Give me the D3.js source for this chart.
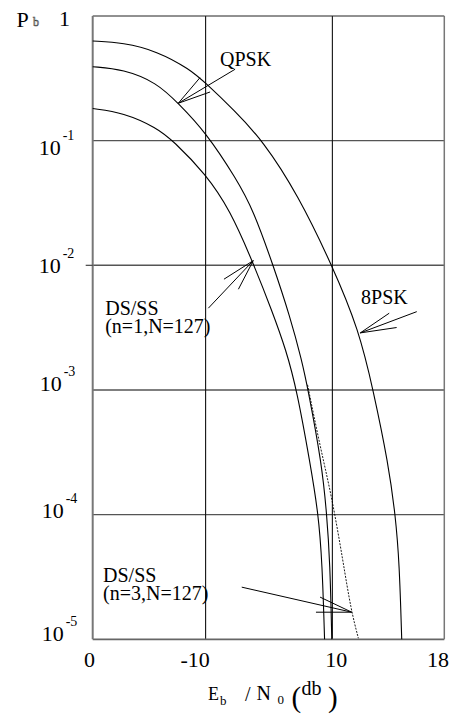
<!DOCTYPE html>
<html>
<head>
<meta charset="utf-8">
<script src="https://cdn.jsdelivr.net/npm/d3@7"></script>
<style>
  html, body { margin: 0; padding: 0; background: #fff; }
  svg { display: block; }
  svg text { font-family: "Liberation Serif", "DejaVu Serif", "Noto Serif", "Times New Roman", Times, serif; }
</style>
</head>
<body>
<svg id="chart" width="453" height="715"></svg>
<script>
// ---- axis data ----
const xTickValues = [0, 5.78, 12.27, 18];          // Eb/N0 (dB) positions of the grid columns
const xTickLabels = ["0", "-10", "10", "18"];
const yTickValues = [1e-1, 1e-2, 1e-3, 1e-4, 1e-5];
const yTickExponents = ["-1", "-2", "-3", "-4", "-5"];

// ---- series: bit error probability Pb vs Eb/N0 (dB) ----
const ebn0_8psk = [0, 1.57, 3.28, 4.98, 5.78, 7.23, 8.73, 10.51, 12.27, 13.63, 14.37, 15.13, 15.50, 15.70, 15.82];
const pb_8psk   = [0.630, 0.611, 0.524, 0.374, 0.290, 0.1762, 0.0994, 0.0367, 0.00989, 0.00303, 9.83e-4, 2.59e-4, 9.82e-5, 4.08e-5, 1e-5];

const ebn0_qpsk = [0, 1.57, 3.28, 4.38, 5.78, 7.37, 8.22, 9.25, 10.10, 10.70, 11.04, 11.72, 11.98, 12.15, 12.24];
const pb_qpsk   = [0.392, 0.374, 0.292, 0.1995, 0.1174, 0.0490, 0.0278, 0.00989, 0.00388, 0.00174, 9.83e-4, 2.59e-4, 1.028e-4, 4.08e-5, 1e-5];

const ebn0_ds1 = [0, 1.57, 3.28, 4.13, 5.78, 7.03, 8.22, 9.18, 9.90, 10.46, 11.13, 11.55, 11.75, 11.87];
const pb_ds1   = [0.181, 0.168, 0.127, 0.0994, 0.0541, 0.0278, 0.0104, 0.00431, 0.002097, 9.83e-4, 2.59e-4, 1.028e-4, 4.08e-5, 1e-5];

const ebn0_ds3 = [11.00, 11.64, 12.24, 12.83, 13.22, 13.60];
const pb_ds3   = [1.10e-3, 3.52e-4, 1.40e-4, 4.1e-5, 1.73e-5, 1.02e-5];

// ---- annotations (label + arrow, in data units) ----
const annLabels = [["QPSK"], ["8PSK"], ["DS/SS", "(n=1,N=127)"], ["DS/SS", "(n=3,N=127)"]];
const annLabelAt = [[6.52, 0.397], [13.74, 0.0049], [0.64, 0.0040], [0.53, 2.89e-5]];
const annTail  = [[7.29, 0.374], [16.59, 0.00425], [5.92, 0.00453], [7.63, 2.62e-5]];
const annTip   = [[4.38, 0.1995], [13.70, 0.00287], [8.22, 0.0109], [13.26, 1.65e-5]];
const annBarbA = [[5.49, 0.320], [15.18, 0.00413], [6.72, 0.00774], [11.64, 2.18e-5]];
const annBarbB = [[6.01, 0.2458], [15.56, 0.00317], [7.46, 0.00643], [11.43, 1.65e-5]];

// ---- layout ----
const W = 453, H = 715;
const margin = { top: 16, right: 8.7, bottom: 75.7, left: 92.7 };
const svg = d3.select("#chart");

const x = d3.scaleLinear().domain([0, 18]).range([margin.left, W - margin.right]);
const y = d3.scaleLog().domain([1e-5, 1]).range([H - margin.bottom, margin.top]);

// grid: horizontal decades
svg.append("g").selectAll("line").data(yTickValues.slice(0, 4)).join("line")
  .attr("x1", x(0)).attr("x2", x(18))
  .attr("y1", d => y(d)).attr("y2", d => y(d))
  .attr("stroke", "#555").attr("stroke-width", 1.4);

// grid: vertical columns
svg.append("g").selectAll("line").data(xTickValues.slice(1, 3)).join("line")
  .attr("x1", d => x(d)).attr("x2", d => x(d))
  .attr("y1", y(1)).attr("y2", y(1e-5))
  .attr("stroke", "#111").attr("stroke-width", 1.1);

// frame
const frame = svg.append("g").attr("fill", "none");
frame.append("line").attr("x1", x(0)).attr("x2", x(18)).attr("y1", y(1)).attr("y2", y(1))
  .attr("stroke", "#222").attr("stroke-width", 1);
frame.append("line").attr("x1", x(0)).attr("x2", x(18)).attr("y1", y(1e-5)).attr("y2", y(1e-5))
  .attr("stroke", "#666").attr("stroke-width", 1.8);
frame.append("line").attr("x1", x(0)).attr("x2", x(0)).attr("y1", y(1)).attr("y2", y(1e-5))
  .attr("stroke", "#777").attr("stroke-width", 2);
frame.append("line").attr("x1", x(18)).attr("x2", x(18)).attr("y1", y(1)).attr("y2", y(1e-5))
  .attr("stroke", "#777").attr("stroke-width", 1.5);
// small tick mark at 10^-2
frame.append("line").attr("x1", x(0) - 7).attr("x2", x(0)).attr("y1", y(1e-2)).attr("y2", y(1e-2))
  .attr("stroke", "#444").attr("stroke-width", 1.2);

// curves (smoothed B-spline through the sampled values)
const line = d3.line()
  .x(d => x(d[0])).y(d => y(d[1]))
  .curve(d3.curveBasis);

const zip = (a, b) => a.map((v, i) => [v, b[i]]);
const series = [
  { pts: zip(ebn0_8psk, pb_8psk), dash: null, w: 1.1 },
  { pts: zip(ebn0_qpsk, pb_qpsk), dash: null, w: 1.1 },
  { pts: zip(ebn0_ds1, pb_ds1), dash: null, w: 1.1 },
  { pts: zip(ebn0_ds3, pb_ds3), dash: "2,1.3", w: 0.9 }
];
svg.append("g").selectAll("path").data(series).join("path")
  .attr("d", d => line(d.pts))
  .attr("fill", "none").attr("stroke", "#000")
  .attr("stroke-width", d => d.w)
  .attr("stroke-dasharray", d => d.dash);

// annotation arrows and labels
const ann = svg.append("g");
annLabels.forEach((lab, i) => {
  const P = p => [x(p[0]), y(p[1])];
  const t = P(annTail[i]), h = P(annTip[i]), a = P(annBarbA[i]), b = P(annBarbB[i]);
  ann.append("path")
    .attr("d", `M${t}L${h}M${a}L${h}L${b}`)
    .attr("fill", "none").attr("stroke", "#000").attr("stroke-width", 1);
  const txt = ann.append("text")
    .attr("x", x(annLabelAt[i][0])).attr("y", y(annLabelAt[i][1]))
    .attr("font-size", 20).attr("fill", "#000");
  lab.forEach((s, j) => {
    txt.append("tspan").attr("x", x(annLabelAt[i][0])).attr("dy", j === 0 ? 0 : 18.5).text(s);
  });
});

// y tick labels: 10^n
const yLabDy = [14, 8, 1, 3, 1.5];
const yLabDx = [0, 0, 1, 3, 3];
const yl = svg.append("g").attr("fill", "#000");
yTickValues.forEach((v, i) => {
  const by = y(v) + yLabDy[i];
  const bx = x(0) - 32 + yLabDx[i];
  yl.append("text").attr("x", bx).attr("y", by).attr("text-anchor", "end")
    .attr("font-size", 22).text("10");
  yl.append("text").attr("x", bx + 2).attr("y", by - 15)
    .attr("font-size", 14).text(yTickExponents[i]);
});
// top-left: Pb  1
yl.append("text").attr("x", 16.5).attr("y", y(1) + 10.5).attr("font-size", 22).text("P");
yl.append("text").attr("x", 33).attr("y", y(1) + 10).attr("font-size", 12)
  .attr("fill", "#fff").attr("stroke", "#444").attr("stroke-width", 0.6).text("b");
yl.append("text").attr("x", 59).attr("y", y(1) + 10).attr("font-size", 22).text("1");

// x axis labels
const xLabDx = [-3.7, -10.9, 3.5, -6.8];
svg.append("g").attr("transform", `translate(0,${y(1e-5)})`)
  .call(d3.axisBottom(x).tickValues(xTickValues).tickFormat((d, i) => xTickLabels[i]).tickSize(0))
  .call(g => g.attr("font-family", null))
  .call(g => g.select(".domain").remove())
  .call(g => g.selectAll("text")
    .attr("font-size", 22).attr("fill", "#000")
    .attr("dy", 0).attr("y", 27.5)
    .attr("dx", (d, i) => xLabDx[i]));

// x axis title: Eb / N0 (db)
const tx = svg.append("g").attr("fill", "#000");
const cx = (x(0) + x(18)) / 2;
tx.append("text").attr("x", cx - 60.5).attr("y", 700).attr("font-size", 18).text("E");
tx.append("text").attr("x", cx - 48.5).attr("y", 705).attr("font-size", 13).text("b");
tx.append("text").attr("x", cx - 23.5).attr("y", 701).attr("font-size", 20).text("/");
tx.append("text").attr("x", cx - 12).attr("y", 700).attr("font-size", 20).text("N");
tx.append("text").attr("x", cx + 9).attr("y", 704).attr("font-size", 13).text("0");
tx.append("text").attr("x", cx + 23).attr("y", 707).attr("font-size", 29).text("(");
tx.append("text").attr("x", cx + 33).attr("y", 695).attr("font-size", 20).text("db");
tx.append("text").attr("x", cx + 59.5).attr("y", 707).attr("font-size", 29).text(")");
</script>
</body>
</html>
